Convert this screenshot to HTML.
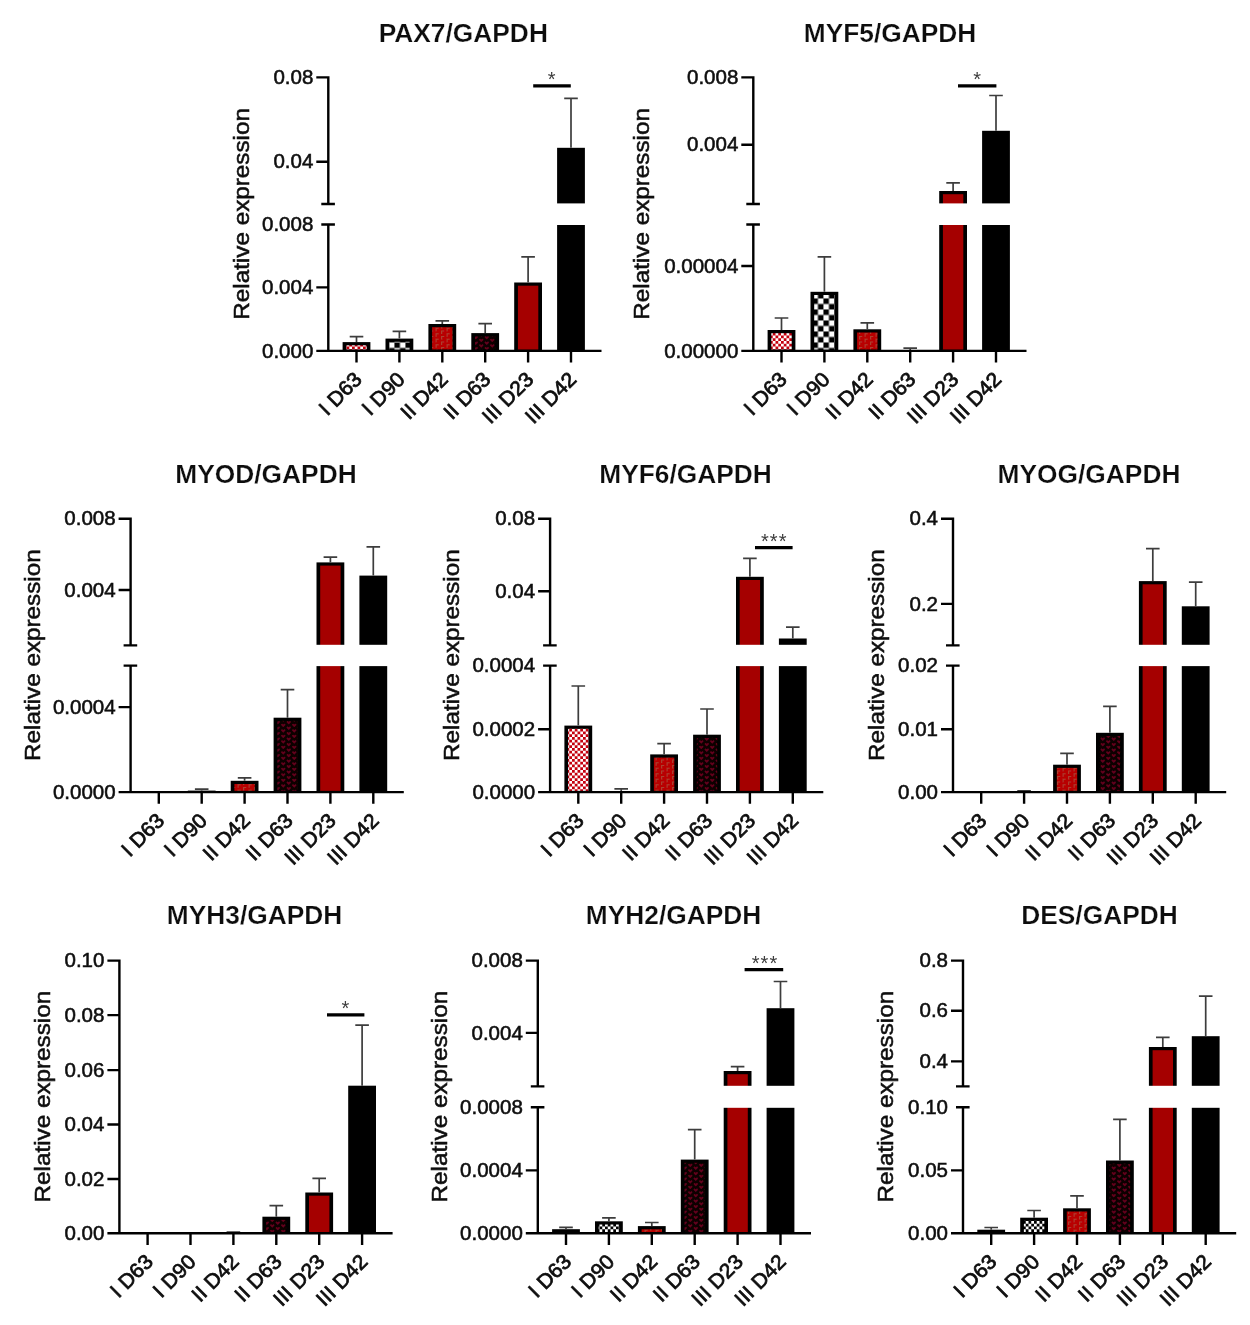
<!DOCTYPE html>
<html><head><meta charset="utf-8"><title>Relative expression</title>
<style>html,body{margin:0;padding:0;background:#fff}svg{display:block}text{font-family:"Liberation Sans", sans-serif;fill:#111}.m{stroke:#111;stroke-width:.55px}.t{stroke:#fff;stroke-width:.22px}.x{stroke-width:.75px}</style></head><body>
<svg width="1250" height="1325" viewBox="0 0 1250 1325">
<defs>
<pattern id="pk" width="11" height="11" patternUnits="userSpaceOnUse"><rect width="11" height="11" fill="#fff"/><path d="M0 0h2.75v2.75h-2.75zM5.5 0h2.75v2.75h-2.75zM2.75 2.75h2.75v2.75h-2.75zM8.25 2.75h2.75v2.75h-2.75zM0 5.5h2.75v2.75h-2.75zM5.5 5.5h2.75v2.75h-2.75zM2.75 8.25h2.75v2.75h-2.75zM8.25 8.25h2.75v2.75h-2.75z" fill="#c4000f"/></pattern>
<pattern id="bw" width="11" height="11" patternUnits="userSpaceOnUse" patternTransform="translate(9.44 1.47)"><rect width="11" height="11" fill="#fff"/><path d="M0 0h5.5v5.5h-5.5zM5.5 5.5h5.5v5.5h-5.5z" fill="#000"/></pattern>
<pattern id="bw2" width="11" height="11" patternUnits="userSpaceOnUse"><rect width="11" height="11" fill="#fff"/><path d="M0 0h2.75v2.75h-2.75zM5.5 0h2.75v2.75h-2.75zM2.75 2.75h2.75v2.75h-2.75zM8.25 2.75h2.75v2.75h-2.75zM0 5.5h2.75v2.75h-2.75zM5.5 5.5h2.75v2.75h-2.75zM2.75 8.25h2.75v2.75h-2.75zM8.25 8.25h2.75v2.75h-2.75z" fill="#000"/></pattern>
<pattern id="rg" width="11" height="11" patternUnits="userSpaceOnUse"><rect width="11" height="11" fill="#b80206"/><path d="M1.6 3.9V1H4.1M1.6 9.4V6.5H4.1M7.1 6.65V3.75H9.6M7.1 12.15V9.25H9.6M7.1 1.15V-1.75H9.6" stroke="#a07850" stroke-width="1.1" fill="none" opacity=".55"/></pattern>
<pattern id="bh" width="11" height="11" patternUnits="userSpaceOnUse"><rect width="11" height="11" fill="#0a0000"/><path d="M2.75 3.9L0.56 1.77Q0.56 0.28 1.69 0.4L2.75 1.15L3.81 0.4Q4.94 0.28 4.94 1.77ZM2.75 9.4L0.56 7.28Q0.56 5.78 1.69 5.9L2.75 6.65L3.81 5.9Q4.94 5.78 4.94 7.28ZM8.25 6.65L6.06 4.53Q6.06 3.02 7.19 3.15L8.25 3.9L9.31 3.15Q10.44 3.02 10.44 4.53ZM8.25 12.15L6.06 10.03Q6.06 8.53 7.19 8.65L8.25 9.4L9.31 8.65Q10.44 8.53 10.44 10.03ZM8.25 1.15L6.06 -0.98Q6.06 -2.48 7.19 -2.35L8.25 -1.6L9.31 -2.35Q10.44 -2.48 10.44 -0.98Z" fill="#64001a"/></pattern>
<filter id="soft" x="0" y="0" width="1250" height="1325" filterUnits="userSpaceOnUse"><feGaussianBlur stdDeviation="0.45"/></filter>
</defs>
<rect width="1250" height="1325" fill="#fff"/>
<g filter="url(#soft)">
<g><!-- PAX7/GAPDH -->
<text transform="translate(463.3 42) scale(1.037 1)" font-size="25.4" font-weight="bold" text-anchor="middle" class="t">PAX7/GAPDH</text>
<rect x="342.6" y="342.1" width="27.8" height="8.8" fill="#000"/>
<rect x="346.3" y="345.3" width="20.4" height="4.32" fill="url(#pk)"/>
<path d="M356.5 342.1V336.7M349.7 336.7H363.3" stroke="#3d3d3d" stroke-width="1.7" fill="none"/>
<rect x="385.5" y="338.6" width="27.8" height="12.3" fill="#000"/>
<rect x="389.2" y="341.8" width="20.4" height="7.82" fill="url(#bw)"/>
<path d="M399.4 338.6V331.4M392.6 331.4H406.2" stroke="#3d3d3d" stroke-width="1.7" fill="none"/>
<rect x="428.4" y="324" width="27.8" height="26.9" fill="#000"/>
<rect x="432.1" y="327.2" width="20.4" height="22.42" fill="url(#rg)"/>
<path d="M442.3 324V320.9M435.5 320.9H449.1" stroke="#3d3d3d" stroke-width="1.7" fill="none"/>
<rect x="471.3" y="333.1" width="27.8" height="17.8" fill="#000"/>
<rect x="475" y="336.3" width="20.4" height="13.32" fill="url(#bh)"/>
<path d="M485.2 333.1V323.7M478.4 323.7H492" stroke="#3d3d3d" stroke-width="1.7" fill="none"/>
<rect x="514.2" y="282.5" width="27.8" height="68.4" fill="#000"/>
<rect x="517.9" y="285.7" width="20.4" height="63.92" fill="#a50000"/>
<path d="M528.1 282.5V256.8M521.3 256.8H534.9" stroke="#3d3d3d" stroke-width="1.7" fill="none"/>
<rect x="557.1" y="147.8" width="27.8" height="203.1" fill="#000"/>
<rect x="556.1" y="203.4" width="29.8" height="21.6" fill="#fff"/>
<path d="M571 147.8V98.4M564.2 98.4H577.8" stroke="#3d3d3d" stroke-width="1.7" fill="none"/>
<path d="M328.3 76.2V204M321.3 204H334.9M321.3 224.5H334.9M328.3 224.5V350.9M316.9 350.9H601.5M316.3 77.4H328.3M316.3 161.7H328.3M316.3 287.4H328.3M316.3 350.9H328.3M356.5 350.9V362.5M399.4 350.9V362.5M442.3 350.9V362.5M485.2 350.9V362.5M528.1 350.9V362.5M571 350.9V362.5" stroke="#000" stroke-width="2.4" fill="none"/>
<text x="313.3" y="84" font-size="20.5" text-anchor="end" class="m">0.08</text>
<text x="313.3" y="168.3" font-size="20.5" text-anchor="end" class="m">0.04</text>
<text x="313.3" y="231.1" font-size="20.5" text-anchor="end" class="m">0.008</text>
<text x="313.3" y="294" font-size="20.5" text-anchor="end" class="m">0.004</text>
<text x="313.3" y="357.5" font-size="20.5" text-anchor="end" class="m">0.000</text>
<text transform="translate(249.2 213.85) rotate(-90) scale(1.06 1)" font-size="22.9" text-anchor="middle" class="m">Relative expression</text>
<text transform="translate(363.2 380.6) rotate(-45) scale(1.03 1)" font-size="20.6" text-anchor="end" class="m x">I D63</text>
<text transform="translate(406.1 380.6) rotate(-45) scale(1.03 1)" font-size="20.6" text-anchor="end" class="m x">I D90</text>
<text transform="translate(449 380.6) rotate(-45) scale(1.03 1)" font-size="20.6" text-anchor="end" class="m x">II D42</text>
<text transform="translate(491.9 380.6) rotate(-45) scale(1.03 1)" font-size="20.6" text-anchor="end" class="m x">II D63</text>
<text transform="translate(534.8 380.6) rotate(-45) scale(1.03 1)" font-size="20.6" text-anchor="end" class="m x">III D23</text>
<text transform="translate(577.7 380.6) rotate(-45) scale(1.03 1)" font-size="20.6" text-anchor="end" class="m x">III D42</text>
<path d="M533.2 85.8H570.8" stroke="#000" stroke-width="3.3"/>
<text x="552.2" y="85.7" font-size="20.0" text-anchor="middle" letter-spacing="1.1" style="fill:#3c3c3c">*</text>
</g>
<g><!-- MYF5/GAPDH -->
<text transform="translate(890 42) scale(1.037 1)" font-size="25.4" font-weight="bold" text-anchor="middle" class="t">MYF5/GAPDH</text>
<rect x="767.6" y="330" width="27.8" height="20.9" fill="#000"/>
<rect x="771.3" y="333.2" width="20.4" height="16.42" fill="url(#pk)"/>
<path d="M781.5 330V318M774.7 318H788.3" stroke="#3d3d3d" stroke-width="1.7" fill="none"/>
<rect x="810.5" y="291.8" width="27.8" height="59.1" fill="#000"/>
<rect x="814.2" y="295" width="20.4" height="54.62" fill="url(#bw)"/>
<path d="M824.4 291.8V256.8M817.6 256.8H831.2" stroke="#3d3d3d" stroke-width="1.7" fill="none"/>
<rect x="853.4" y="329.3" width="27.8" height="21.6" fill="#000"/>
<rect x="857.1" y="332.5" width="20.4" height="17.12" fill="url(#rg)"/>
<path d="M867.3 329.3V322.8M860.5 322.8H874.1" stroke="#3d3d3d" stroke-width="1.7" fill="none"/>
<path d="M910.2 350.9V348.2M903.4 348.2H917" stroke="#3d3d3d" stroke-width="1.7" fill="none"/>
<rect x="939.2" y="191" width="27.8" height="159.9" fill="#000"/>
<rect x="942.9" y="194.2" width="20.4" height="155.42" fill="#a50000"/>
<rect x="938.2" y="203.4" width="29.8" height="21.6" fill="#fff"/>
<path d="M953.1 191V182.9M946.3 182.9H959.9" stroke="#3d3d3d" stroke-width="1.7" fill="none"/>
<rect x="982.1" y="130.8" width="27.8" height="220.1" fill="#000"/>
<rect x="981.1" y="203.4" width="29.8" height="21.6" fill="#fff"/>
<path d="M996 130.8V95.5M989.2 95.5H1002.8" stroke="#3d3d3d" stroke-width="1.7" fill="none"/>
<path d="M753.3 76.2V204M746.3 204H759.9M746.3 224.5H759.9M753.3 224.5V350.9M741.9 350.9H1026.5M741.3 77.4H753.3M741.3 144.8H753.3M741.3 266H753.3M741.3 350.9H753.3M781.5 350.9V362.5M824.4 350.9V362.5M867.3 350.9V362.5M910.2 350.9V362.5M953.1 350.9V362.5M996 350.9V362.5" stroke="#000" stroke-width="2.4" fill="none"/>
<text x="738.3" y="84" font-size="20.5" text-anchor="end" class="m">0.008</text>
<text x="738.3" y="151.4" font-size="20.5" text-anchor="end" class="m">0.004</text>
<text x="738.3" y="272.6" font-size="20.5" text-anchor="end" class="m">0.00004</text>
<text x="738.3" y="357.5" font-size="20.5" text-anchor="end" class="m">0.00000</text>
<text transform="translate(649 213.85) rotate(-90) scale(1.06 1)" font-size="22.9" text-anchor="middle" class="m">Relative expression</text>
<text transform="translate(788.2 380.6) rotate(-45) scale(1.03 1)" font-size="20.6" text-anchor="end" class="m x">I D63</text>
<text transform="translate(831.1 380.6) rotate(-45) scale(1.03 1)" font-size="20.6" text-anchor="end" class="m x">I D90</text>
<text transform="translate(874 380.6) rotate(-45) scale(1.03 1)" font-size="20.6" text-anchor="end" class="m x">II D42</text>
<text transform="translate(916.9 380.6) rotate(-45) scale(1.03 1)" font-size="20.6" text-anchor="end" class="m x">II D63</text>
<text transform="translate(959.8 380.6) rotate(-45) scale(1.03 1)" font-size="20.6" text-anchor="end" class="m x">III D23</text>
<text transform="translate(1002.7 380.6) rotate(-45) scale(1.03 1)" font-size="20.6" text-anchor="end" class="m x">III D42</text>
<path d="M958 85.8H996.4" stroke="#000" stroke-width="3.3"/>
<text x="977.6" y="85.7" font-size="20.0" text-anchor="middle" letter-spacing="1.1" style="fill:#3c3c3c">*</text>
</g>
<g><!-- MYOD/GAPDH -->
<text transform="translate(266 482.7) scale(1.037 1)" font-size="25.4" font-weight="bold" text-anchor="middle" class="t">MYOD/GAPDH</text>
<rect x="187.8" y="790.6" width="27.8" height="1.5" fill="#000"/>
<path d="M201.7 790.6V789.2M194.9 789.2H208.5" stroke="#3d3d3d" stroke-width="1.7" fill="none"/>
<rect x="230.7" y="780.8" width="27.8" height="11.3" fill="#000"/>
<rect x="234.4" y="784" width="20.4" height="6.82" fill="url(#rg)"/>
<path d="M244.6 780.8V777.9M237.8 777.9H251.4" stroke="#3d3d3d" stroke-width="1.7" fill="none"/>
<rect x="273.6" y="717.7" width="27.8" height="74.4" fill="#000"/>
<rect x="277.3" y="720.9" width="20.4" height="69.92" fill="url(#bh)"/>
<path d="M287.5 717.7V689.6M280.7 689.6H294.3" stroke="#3d3d3d" stroke-width="1.7" fill="none"/>
<rect x="316.5" y="562.4" width="27.8" height="229.7" fill="#000"/>
<rect x="320.2" y="565.6" width="20.4" height="225.22" fill="#a50000"/>
<rect x="315.5" y="644.8" width="29.8" height="21.3" fill="#fff"/>
<path d="M330.4 562.4V557.1M323.6 557.1H337.2" stroke="#3d3d3d" stroke-width="1.7" fill="none"/>
<rect x="359.4" y="575.6" width="27.8" height="216.5" fill="#000"/>
<rect x="358.4" y="644.8" width="29.8" height="21.3" fill="#fff"/>
<path d="M373.3 575.6V546.8M366.5 546.8H380.1" stroke="#3d3d3d" stroke-width="1.7" fill="none"/>
<path d="M130.6 517.5V645.4M123.6 645.4H137.2M123.6 665.6H137.2M130.6 665.6V792.1M119.2 792.1H403.8M118.6 518.7H130.6M118.6 590H130.6M118.6 707.1H130.6M118.6 792.1H130.6M158.8 792.1V803.7M201.7 792.1V803.7M244.6 792.1V803.7M287.5 792.1V803.7M330.4 792.1V803.7M373.3 792.1V803.7" stroke="#000" stroke-width="2.4" fill="none"/>
<text x="115.6" y="525.3" font-size="20.5" text-anchor="end" class="m">0.008</text>
<text x="115.6" y="596.6" font-size="20.5" text-anchor="end" class="m">0.004</text>
<text x="115.6" y="713.7" font-size="20.5" text-anchor="end" class="m">0.0004</text>
<text x="115.6" y="798.7" font-size="20.5" text-anchor="end" class="m">0.0000</text>
<text transform="translate(39.7 655.1) rotate(-90) scale(1.06 1)" font-size="22.9" text-anchor="middle" class="m">Relative expression</text>
<text transform="translate(165.5 821.8) rotate(-45) scale(1.03 1)" font-size="20.6" text-anchor="end" class="m x">I D63</text>
<text transform="translate(208.4 821.8) rotate(-45) scale(1.03 1)" font-size="20.6" text-anchor="end" class="m x">I D90</text>
<text transform="translate(251.3 821.8) rotate(-45) scale(1.03 1)" font-size="20.6" text-anchor="end" class="m x">II D42</text>
<text transform="translate(294.2 821.8) rotate(-45) scale(1.03 1)" font-size="20.6" text-anchor="end" class="m x">II D63</text>
<text transform="translate(337.1 821.8) rotate(-45) scale(1.03 1)" font-size="20.6" text-anchor="end" class="m x">III D23</text>
<text transform="translate(380 821.8) rotate(-45) scale(1.03 1)" font-size="20.6" text-anchor="end" class="m x">III D42</text>
</g>
<g><!-- MYF6/GAPDH -->
<text transform="translate(685.5 482.7) scale(1.037 1)" font-size="25.4" font-weight="bold" text-anchor="middle" class="t">MYF6/GAPDH</text>
<rect x="564.4" y="725.6" width="27.8" height="66.5" fill="#000"/>
<rect x="568.1" y="728.8" width="20.4" height="62.02" fill="url(#pk)"/>
<path d="M578.3 725.6V686M571.5 686H585.1" stroke="#3d3d3d" stroke-width="1.7" fill="none"/>
<path d="M621.2 792.1V788.9M614.4 788.9H628" stroke="#3d3d3d" stroke-width="1.7" fill="none"/>
<rect x="650.2" y="754.4" width="27.8" height="37.7" fill="#000"/>
<rect x="653.9" y="757.6" width="20.4" height="33.22" fill="url(#rg)"/>
<path d="M664.1 754.4V743.6M657.3 743.6H670.9" stroke="#3d3d3d" stroke-width="1.7" fill="none"/>
<rect x="693.1" y="734.7" width="27.8" height="57.4" fill="#000"/>
<rect x="696.8" y="737.9" width="20.4" height="52.92" fill="url(#bh)"/>
<path d="M707 734.7V709M700.2 709H713.8" stroke="#3d3d3d" stroke-width="1.7" fill="none"/>
<rect x="736" y="576.8" width="27.8" height="215.3" fill="#000"/>
<rect x="739.7" y="580" width="20.4" height="210.82" fill="#a50000"/>
<rect x="735" y="644.8" width="29.8" height="21.3" fill="#fff"/>
<path d="M749.9 576.8V558.3M743.1 558.3H756.7" stroke="#3d3d3d" stroke-width="1.7" fill="none"/>
<rect x="778.9" y="638.5" width="27.8" height="153.6" fill="#000"/>
<rect x="777.9" y="644.8" width="29.8" height="21.3" fill="#fff"/>
<path d="M792.8 638.5V627.2M786 627.2H799.6" stroke="#3d3d3d" stroke-width="1.7" fill="none"/>
<path d="M550.1 517.5V645.4M543.1 645.4H556.7M543.1 665.6H556.7M550.1 665.6V792.1M538.7 792.1H823.3M538.1 518.7H550.1M538.1 591.2H550.1M538.1 729.2H550.1M538.1 792.1H550.1M578.3 792.1V803.7M621.2 792.1V803.7M664.1 792.1V803.7M707 792.1V803.7M749.9 792.1V803.7M792.8 792.1V803.7" stroke="#000" stroke-width="2.4" fill="none"/>
<text x="535.1" y="525.3" font-size="20.5" text-anchor="end" class="m">0.08</text>
<text x="535.1" y="597.8" font-size="20.5" text-anchor="end" class="m">0.04</text>
<text x="535.1" y="672.2" font-size="20.5" text-anchor="end" class="m">0.0004</text>
<text x="535.1" y="735.8" font-size="20.5" text-anchor="end" class="m">0.0002</text>
<text x="535.1" y="798.7" font-size="20.5" text-anchor="end" class="m">0.0000</text>
<text transform="translate(459.2 655.1) rotate(-90) scale(1.06 1)" font-size="22.9" text-anchor="middle" class="m">Relative expression</text>
<text transform="translate(585 821.8) rotate(-45) scale(1.03 1)" font-size="20.6" text-anchor="end" class="m x">I D63</text>
<text transform="translate(627.9 821.8) rotate(-45) scale(1.03 1)" font-size="20.6" text-anchor="end" class="m x">I D90</text>
<text transform="translate(670.8 821.8) rotate(-45) scale(1.03 1)" font-size="20.6" text-anchor="end" class="m x">II D42</text>
<text transform="translate(713.7 821.8) rotate(-45) scale(1.03 1)" font-size="20.6" text-anchor="end" class="m x">II D63</text>
<text transform="translate(756.6 821.8) rotate(-45) scale(1.03 1)" font-size="20.6" text-anchor="end" class="m x">III D23</text>
<text transform="translate(799.5 821.8) rotate(-45) scale(1.03 1)" font-size="20.6" text-anchor="end" class="m x">III D42</text>
<path d="M755 547.7H792.6" stroke="#000" stroke-width="3.3"/>
<text x="774.3" y="547.6" font-size="20.0" text-anchor="middle" letter-spacing="1.1" style="fill:#3c3c3c">***</text>
</g>
<g><!-- MYOG/GAPDH -->
<text transform="translate(1089 482.7) scale(1.037 1)" font-size="25.4" font-weight="bold" text-anchor="middle" class="t">MYOG/GAPDH</text>
<path d="M1024.1 792.1V790.9M1017.3 790.9H1030.9" stroke="#3d3d3d" stroke-width="1.7" fill="none"/>
<rect x="1053.1" y="764.7" width="27.8" height="27.4" fill="#000"/>
<rect x="1056.8" y="767.9" width="20.4" height="22.92" fill="url(#rg)"/>
<path d="M1067 764.7V753.4M1060.2 753.4H1073.8" stroke="#3d3d3d" stroke-width="1.7" fill="none"/>
<rect x="1096" y="732.8" width="27.8" height="59.3" fill="#000"/>
<rect x="1099.7" y="736" width="20.4" height="54.82" fill="url(#bh)"/>
<path d="M1109.9 732.8V706.4M1103.1 706.4H1116.7" stroke="#3d3d3d" stroke-width="1.7" fill="none"/>
<rect x="1138.9" y="581.1" width="27.8" height="211" fill="#000"/>
<rect x="1142.6" y="584.3" width="20.4" height="206.52" fill="#a50000"/>
<rect x="1137.9" y="644.8" width="29.8" height="21.3" fill="#fff"/>
<path d="M1152.8 581.1V548.7M1146 548.7H1159.6" stroke="#3d3d3d" stroke-width="1.7" fill="none"/>
<rect x="1181.8" y="606.3" width="27.8" height="185.8" fill="#000"/>
<rect x="1180.8" y="644.8" width="29.8" height="21.3" fill="#fff"/>
<path d="M1195.7 606.3V582.1M1188.9 582.1H1202.5" stroke="#3d3d3d" stroke-width="1.7" fill="none"/>
<path d="M953 517.5V645.4M946 645.4H959.6M946 665.6H959.6M953 665.6V792.1M941.6 792.1H1226.2M941 518.7H953M941 603.9H953M941 729.2H953M941 792.1H953M981.2 792.1V803.7M1024.1 792.1V803.7M1067 792.1V803.7M1109.9 792.1V803.7M1152.8 792.1V803.7M1195.7 792.1V803.7" stroke="#000" stroke-width="2.4" fill="none"/>
<text x="938" y="525.3" font-size="20.5" text-anchor="end" class="m">0.4</text>
<text x="938" y="610.5" font-size="20.5" text-anchor="end" class="m">0.2</text>
<text x="938" y="672.2" font-size="20.5" text-anchor="end" class="m">0.02</text>
<text x="938" y="735.8" font-size="20.5" text-anchor="end" class="m">0.01</text>
<text x="938" y="798.7" font-size="20.5" text-anchor="end" class="m">0.00</text>
<text transform="translate(883.7 655.1) rotate(-90) scale(1.06 1)" font-size="22.9" text-anchor="middle" class="m">Relative expression</text>
<text transform="translate(987.9 821.8) rotate(-45) scale(1.03 1)" font-size="20.6" text-anchor="end" class="m x">I D63</text>
<text transform="translate(1030.8 821.8) rotate(-45) scale(1.03 1)" font-size="20.6" text-anchor="end" class="m x">I D90</text>
<text transform="translate(1073.7 821.8) rotate(-45) scale(1.03 1)" font-size="20.6" text-anchor="end" class="m x">II D42</text>
<text transform="translate(1116.6 821.8) rotate(-45) scale(1.03 1)" font-size="20.6" text-anchor="end" class="m x">II D63</text>
<text transform="translate(1159.5 821.8) rotate(-45) scale(1.03 1)" font-size="20.6" text-anchor="end" class="m x">III D23</text>
<text transform="translate(1202.4 821.8) rotate(-45) scale(1.03 1)" font-size="20.6" text-anchor="end" class="m x">III D42</text>
</g>
<g><!-- MYH3/GAPDH -->
<text transform="translate(254.5 924.2) scale(1.037 1)" font-size="25.4" font-weight="bold" text-anchor="middle" class="t">MYH3/GAPDH</text>
<path d="M233.4 1233.3V1232M226.6 1232H240.2" stroke="#3d3d3d" stroke-width="1.7" fill="none"/>
<rect x="262.4" y="1216.7" width="27.8" height="16.6" fill="#000"/>
<rect x="266.1" y="1219.9" width="20.4" height="12.12" fill="url(#bh)"/>
<path d="M276.3 1216.7V1205.7M269.5 1205.7H283.1" stroke="#3d3d3d" stroke-width="1.7" fill="none"/>
<rect x="305.3" y="1192.5" width="27.8" height="40.8" fill="#000"/>
<rect x="309" y="1195.7" width="20.4" height="36.32" fill="#a50000"/>
<path d="M319.2 1192.5V1178.3M312.4 1178.3H326" stroke="#3d3d3d" stroke-width="1.7" fill="none"/>
<rect x="348.2" y="1085.7" width="27.8" height="147.6" fill="#000"/>
<path d="M362.1 1085.7V1025.2M355.3 1025.2H368.9" stroke="#3d3d3d" stroke-width="1.7" fill="none"/>
<path d="M119.4 959.4V1233.3M108 1233.3H392.6M107.4 960.6H119.4M107.4 1015.1H119.4M107.4 1070.1H119.4M107.4 1124.5H119.4M107.4 1179H119.4M107.4 1233.3H119.4M147.6 1233.3V1244.9M190.5 1233.3V1244.9M233.4 1233.3V1244.9M276.3 1233.3V1244.9M319.2 1233.3V1244.9M362.1 1233.3V1244.9" stroke="#000" stroke-width="2.4" fill="none"/>
<text x="104.4" y="967.2" font-size="20.5" text-anchor="end" class="m">0.10</text>
<text x="104.4" y="1021.7" font-size="20.5" text-anchor="end" class="m">0.08</text>
<text x="104.4" y="1076.7" font-size="20.5" text-anchor="end" class="m">0.06</text>
<text x="104.4" y="1131.1" font-size="20.5" text-anchor="end" class="m">0.04</text>
<text x="104.4" y="1185.6" font-size="20.5" text-anchor="end" class="m">0.02</text>
<text x="104.4" y="1239.9" font-size="20.5" text-anchor="end" class="m">0.00</text>
<text transform="translate(50.3 1096.65) rotate(-90) scale(1.06 1)" font-size="22.9" text-anchor="middle" class="m">Relative expression</text>
<text transform="translate(154.3 1263) rotate(-45) scale(1.03 1)" font-size="20.6" text-anchor="end" class="m x">I D63</text>
<text transform="translate(197.2 1263) rotate(-45) scale(1.03 1)" font-size="20.6" text-anchor="end" class="m x">I D90</text>
<text transform="translate(240.1 1263) rotate(-45) scale(1.03 1)" font-size="20.6" text-anchor="end" class="m x">II D42</text>
<text transform="translate(283 1263) rotate(-45) scale(1.03 1)" font-size="20.6" text-anchor="end" class="m x">II D63</text>
<text transform="translate(325.9 1263) rotate(-45) scale(1.03 1)" font-size="20.6" text-anchor="end" class="m x">III D23</text>
<text transform="translate(368.8 1263) rotate(-45) scale(1.03 1)" font-size="20.6" text-anchor="end" class="m x">III D42</text>
<path d="M327 1014.8H364.4" stroke="#000" stroke-width="3.3"/>
<text x="346" y="1014.7" font-size="20.0" text-anchor="middle" letter-spacing="1.1" style="fill:#3c3c3c">*</text>
</g>
<g><!-- MYH2/GAPDH -->
<text transform="translate(673.5 924.2) scale(1.037 1)" font-size="25.4" font-weight="bold" text-anchor="middle" class="t">MYH2/GAPDH</text>
<rect x="552.1" y="1229.2" width="27.8" height="4.1" fill="#000"/>
<path d="M566 1229.2V1227.3M559.2 1227.3H572.8" stroke="#3d3d3d" stroke-width="1.7" fill="none"/>
<rect x="595" y="1221.3" width="27.8" height="12" fill="#000"/>
<rect x="598.7" y="1224.5" width="20.4" height="7.52" fill="url(#bw2)"/>
<path d="M608.9 1221.3V1217.9M602.1 1217.9H615.7" stroke="#3d3d3d" stroke-width="1.7" fill="none"/>
<rect x="637.9" y="1226.1" width="27.8" height="7.2" fill="#000"/>
<rect x="641.6" y="1229.3" width="20.4" height="2.72" fill="url(#rg)"/>
<path d="M651.8 1226.1V1222.5M645 1222.5H658.6" stroke="#3d3d3d" stroke-width="1.7" fill="none"/>
<rect x="680.8" y="1159.6" width="27.8" height="73.7" fill="#000"/>
<rect x="684.5" y="1162.8" width="20.4" height="69.22" fill="url(#bh)"/>
<path d="M694.7 1159.6V1129.6M687.9 1129.6H701.5" stroke="#3d3d3d" stroke-width="1.7" fill="none"/>
<rect x="723.7" y="1071" width="27.8" height="162.3" fill="#000"/>
<rect x="727.4" y="1074.2" width="20.4" height="157.82" fill="#a50000"/>
<rect x="722.7" y="1085.8" width="29.8" height="22" fill="#fff"/>
<path d="M737.6 1071V1066.7M730.8 1066.7H744.4" stroke="#3d3d3d" stroke-width="1.7" fill="none"/>
<rect x="766.6" y="1008.2" width="27.8" height="225.1" fill="#000"/>
<rect x="765.6" y="1085.8" width="29.8" height="22" fill="#fff"/>
<path d="M780.5 1008.2V981.5M773.7 981.5H787.3" stroke="#3d3d3d" stroke-width="1.7" fill="none"/>
<path d="M537.8 959.4V1086.4M530.8 1086.4H544.4M530.8 1107.3H544.4M537.8 1107.3V1233.3M526.4 1233.3H811M525.8 960.6H537.8M525.8 1032.9H537.8M525.8 1170.4H537.8M525.8 1233.3H537.8M566 1233.3V1244.9M608.9 1233.3V1244.9M651.8 1233.3V1244.9M694.7 1233.3V1244.9M737.6 1233.3V1244.9M780.5 1233.3V1244.9" stroke="#000" stroke-width="2.4" fill="none"/>
<text x="522.8" y="967.2" font-size="20.5" text-anchor="end" class="m">0.008</text>
<text x="522.8" y="1039.5" font-size="20.5" text-anchor="end" class="m">0.004</text>
<text x="522.8" y="1113.9" font-size="20.5" text-anchor="end" class="m">0.0008</text>
<text x="522.8" y="1177" font-size="20.5" text-anchor="end" class="m">0.0004</text>
<text x="522.8" y="1239.9" font-size="20.5" text-anchor="end" class="m">0.0000</text>
<text transform="translate(447.2 1096.65) rotate(-90) scale(1.06 1)" font-size="22.9" text-anchor="middle" class="m">Relative expression</text>
<text transform="translate(572.7 1263) rotate(-45) scale(1.03 1)" font-size="20.6" text-anchor="end" class="m x">I D63</text>
<text transform="translate(615.6 1263) rotate(-45) scale(1.03 1)" font-size="20.6" text-anchor="end" class="m x">I D90</text>
<text transform="translate(658.5 1263) rotate(-45) scale(1.03 1)" font-size="20.6" text-anchor="end" class="m x">II D42</text>
<text transform="translate(701.4 1263) rotate(-45) scale(1.03 1)" font-size="20.6" text-anchor="end" class="m x">II D63</text>
<text transform="translate(744.3 1263) rotate(-45) scale(1.03 1)" font-size="20.6" text-anchor="end" class="m x">III D23</text>
<text transform="translate(787.2 1263) rotate(-45) scale(1.03 1)" font-size="20.6" text-anchor="end" class="m x">III D42</text>
<path d="M744.6 969.7H783.2" stroke="#000" stroke-width="3.3"/>
<text x="765" y="969.6" font-size="20.0" text-anchor="middle" letter-spacing="1.1" style="fill:#3c3c3c">***</text>
</g>
<g><!-- DES/GAPDH -->
<text transform="translate(1099.5 924.2) scale(1.037 1)" font-size="25.4" font-weight="bold" text-anchor="middle" class="t">DES/GAPDH</text>
<rect x="977.3" y="1229.7" width="27.8" height="3.6" fill="#000"/>
<path d="M991.2 1229.7V1227.5M984.4 1227.5H998" stroke="#3d3d3d" stroke-width="1.7" fill="none"/>
<rect x="1020.2" y="1217.7" width="27.8" height="15.6" fill="#000"/>
<rect x="1023.9" y="1220.9" width="20.4" height="11.12" fill="url(#bw2)"/>
<path d="M1034.1 1217.7V1210.5M1027.3 1210.5H1040.9" stroke="#3d3d3d" stroke-width="1.7" fill="none"/>
<rect x="1063.1" y="1208.3" width="27.8" height="25" fill="#000"/>
<rect x="1066.8" y="1211.5" width="20.4" height="20.52" fill="url(#rg)"/>
<path d="M1077 1208.3V1195.8M1070.2 1195.8H1083.8" stroke="#3d3d3d" stroke-width="1.7" fill="none"/>
<rect x="1106" y="1160.5" width="27.8" height="72.8" fill="#000"/>
<rect x="1109.7" y="1163.7" width="20.4" height="68.32" fill="url(#bh)"/>
<path d="M1119.9 1160.5V1119.3M1113.1 1119.3H1126.7" stroke="#3d3d3d" stroke-width="1.7" fill="none"/>
<rect x="1148.9" y="1047" width="27.8" height="186.3" fill="#000"/>
<rect x="1152.6" y="1050.2" width="20.4" height="181.82" fill="#a50000"/>
<rect x="1147.9" y="1085.8" width="29.8" height="22" fill="#fff"/>
<path d="M1162.8 1047V1037.4M1156 1037.4H1169.6" stroke="#3d3d3d" stroke-width="1.7" fill="none"/>
<rect x="1191.8" y="1036.2" width="27.8" height="197.1" fill="#000"/>
<rect x="1190.8" y="1085.8" width="29.8" height="22" fill="#fff"/>
<path d="M1205.7 1036.2V996.2M1198.9 996.2H1212.5" stroke="#3d3d3d" stroke-width="1.7" fill="none"/>
<path d="M963 959.4V1086.4M956 1086.4H969.6M956 1107.3H969.6M963 1107.3V1233.3M951.6 1233.3H1236.2M951 960.6H963M951 1010.8H963M951 1061.4H963M951 1170.4H963M951 1233.3H963M991.2 1233.3V1244.9M1034.1 1233.3V1244.9M1077 1233.3V1244.9M1119.9 1233.3V1244.9M1162.8 1233.3V1244.9M1205.7 1233.3V1244.9" stroke="#000" stroke-width="2.4" fill="none"/>
<text x="948" y="967.2" font-size="20.5" text-anchor="end" class="m">0.8</text>
<text x="948" y="1017.4" font-size="20.5" text-anchor="end" class="m">0.6</text>
<text x="948" y="1068" font-size="20.5" text-anchor="end" class="m">0.4</text>
<text x="948" y="1113.9" font-size="20.5" text-anchor="end" class="m">0.10</text>
<text x="948" y="1177" font-size="20.5" text-anchor="end" class="m">0.05</text>
<text x="948" y="1239.9" font-size="20.5" text-anchor="end" class="m">0.00</text>
<text transform="translate(893.4 1096.65) rotate(-90) scale(1.06 1)" font-size="22.9" text-anchor="middle" class="m">Relative expression</text>
<text transform="translate(997.9 1263) rotate(-45) scale(1.03 1)" font-size="20.6" text-anchor="end" class="m x">I D63</text>
<text transform="translate(1040.8 1263) rotate(-45) scale(1.03 1)" font-size="20.6" text-anchor="end" class="m x">I D90</text>
<text transform="translate(1083.7 1263) rotate(-45) scale(1.03 1)" font-size="20.6" text-anchor="end" class="m x">II D42</text>
<text transform="translate(1126.6 1263) rotate(-45) scale(1.03 1)" font-size="20.6" text-anchor="end" class="m x">II D63</text>
<text transform="translate(1169.5 1263) rotate(-45) scale(1.03 1)" font-size="20.6" text-anchor="end" class="m x">III D23</text>
<text transform="translate(1212.4 1263) rotate(-45) scale(1.03 1)" font-size="20.6" text-anchor="end" class="m x">III D42</text>
</g>
</g>
</svg></body></html>
